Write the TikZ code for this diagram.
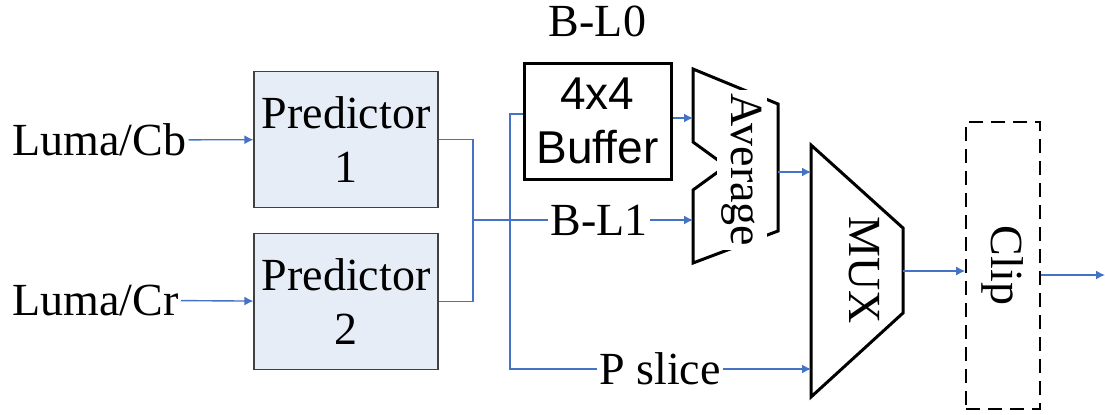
\documentclass[tikz,border=0pt]{standalone}
\usepackage{fontspec}
\setmainfont{Liberation Serif}
\newfontfamily\arialfont{Liberation Sans}
\usetikzlibrary{arrows.meta,positioning}
\definecolor{sigblue}{HTML}{4472C4}
\definecolor{predfill}{HTML}{E7EDF7}

\begin{document}
\begin{tikzpicture}[x=0.5pt,y=-0.5pt, font=\fontsize{23}{27}\selectfont,
  >={Latex[length=4.5pt,width=4.5pt]},
  sig/.style={draw=sigblue,line width=0.7pt},
  lbl/.style={inner sep=1pt},
  pred/.style={draw=black!75,fill=predfill,line width=0.6pt,minimum width=92pt,minimum height=68pt,align=center},
  blk/.style={draw,line width=1.5pt},
  bufbox/.style={blk,minimum width=73.5pt,minimum height=58pt,align=center,font=\arialfont\fontsize{23}{27}\selectfont},
  clipbox/.style={draw,dash pattern=on 7pt off 4pt,line width=0.8pt,minimum width=37pt,minimum height=143.5pt}]
\useasboundingbox (0,0) rectangle (1105,414);

% predictors
\node[pred] (p1) at (346,139.5) {Predictor\\1};
\node[pred,below=12.5pt of p1] (p2) {Predictor\\2};
\node[lbl,anchor=west] (cb) at (10,140) {Luma/Cb};
\node[lbl,anchor=west] (cr) at (10,300) {Luma/Cr};

% buffer and labels
\node[bufbox] (buf) at (597.5,121) {4x4\\Buffer};
\node[lbl,above=11pt of buf] (bl0) {B-L0};
\node[lbl] (bl1) at (599,220) {B-L1};
\node[lbl] (ps) at (660,369) {P slice};

% average unit
\draw[blk] (693,69) -- (778,104) -- (778,231) -- (693,263) -- (693,190) -- (726,166) -- (693,142) -- cycle;
\node[fill=white,rotate=-90,inner xsep=2pt,inner ysep=2.5pt] (avg) at (742,170) {Average};
\coordinate (a1) at (693,118);
\coordinate (a2) at (693,220);
\coordinate (ao) at (778,172);

% mux
\draw[blk] (811,145) -- (903,228) -- (903,313) -- (811,397) -- cycle;
\node[rotate=-90] (mux) at (864,270) {MUX};
\coordinate (m1) at (811,172);
\coordinate (m2) at (811,369);
\coordinate (mo) at (903,271);

% clip
\node[clipbox] (clip) at (1003,265.5) {\rotatebox{-90}{Clip}};
\coordinate (out) at (1105,275);

% wiring
\coordinate (jn) at (473,220);
\coordinate (tap) at (510,220);
\draw[sig,->] (cb) -- (p1);
\draw[sig,->] (cr) -- (p2);
\draw[sig] (p1.east) -| (jn) |- (p2.east);
\draw[sig] (jn) -- (bl1);
\draw[sig] ([yshift=3.5pt]buf.west) -| (tap) |- (ps);
\draw[sig,->] (bl1) -- (a2);
\draw[sig,->] (buf.east |- a1) -- (a1);
\draw[sig,->] (ps) -- (m2);
\draw[sig,->] (ao) -- (m1);
\draw[sig,->] (mo) -- (clip.west |- mo);
\draw[sig,->] (out -| clip.east) -- (out);
\end{tikzpicture}
\end{document}
